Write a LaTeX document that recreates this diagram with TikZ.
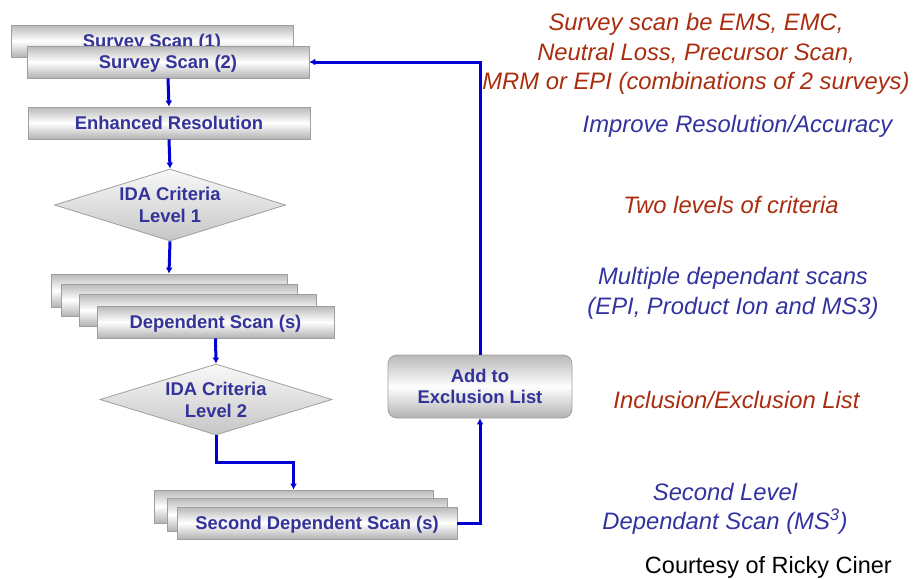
\documentclass[tikz,border=0pt]{standalone}
\usepackage{fontspec}
\setmainfont{Liberation Sans}
\usepackage{tikz}
\usetikzlibrary{shapes.geometric, calc, arrows.meta, positioning}
\usepackage{xcolor}
\definecolor{boxtext}{RGB}{51,51,153}
\definecolor{noteblue}{RGB}{51,51,160}
\definecolor{notered}{RGB}{170,45,15}
\definecolor{flowblue}{RGB}{0,0,210}

\begin{document}
\begin{tikzpicture}[x=1pt, y=-1pt,
    scanbox/.style={draw=gray!75, line width=0.8pt, top color=gray!55, bottom color=gray!60,
      middle color=white, text=boxtext, font=\fontsize{18.4}{20}\selectfont\bfseries,
      minimum height=32pt, inner sep=0pt, text height=13.2pt, text depth=0pt},
    criteria/.style={diamond, draw=gray!75, line width=0.8pt, top color=gray!5, bottom color=gray!45,
      text=boxtext, font=\fontsize{18.4}{22}\selectfont\bfseries, align=center,
      aspect=3.2, inner sep=0pt, minimum width=231pt, minimum height=72pt},
    listbox/.style={draw=gray!75, line width=0.8pt, rounded corners=9pt, top color=gray!55,
      bottom color=gray!60, middle color=white, text=boxtext, align=center,
      font=\fontsize{18.4}{21}\selectfont\bfseries, minimum width=184pt, minimum height=63pt},
    note/.style={align=center, inner sep=0pt, font=\fontsize{23.8}{29.5}\selectfont\itshape},
    flow/.style={draw=flowblue, line width=3pt, -{Latex[length=6pt,width=7pt]}}]
  \useasboundingbox (0,0) rectangle (914,579);

  % Survey scans
  \node[scanbox, minimum width=282pt] (ss1) at (152,41) {Survey Scan (1)};
  \node[scanbox, minimum width=282pt] (ss2) at (168,62) {Survey Scan (2)};
  \node[scanbox, minimum width=282pt] (er) at (169,123) {Enhanced Resolution};

  % First criteria and dependent scans
  \node[criteria] (ida1) at (170,205) {IDA Criteria\\Level 1};
  \node[scanbox, minimum width=236pt, minimum height=33pt] (ds1) at (169,290.5) {};
  \node[scanbox, minimum width=236pt] (ds2) at (179,300) {};
  \node[scanbox, minimum width=237pt] (ds3) at (197.5,310) {};
  \node[scanbox, minimum width=237pt] (ds4) at (215.5,322) {Dependent Scan (s)};

  % Second criteria and second dependent scans
  \node[criteria, minimum width=232pt, minimum height=71pt] (ida2) at (216,399.5) {IDA Criteria\\Level 2};
  \node[scanbox, minimum width=279pt, minimum height=33pt] (sds1) at (293.5,506.5) {};
  \node[scanbox, minimum width=280pt, minimum height=33pt] (sds2) at (307,514.5) {};
  \node[scanbox, minimum width=280pt] (sds3) at (317,523) {Second Dependent Scan (s)};

  \node[listbox] (excl) at (480,386.5) {Add to\\Exclusion List};

  % Flow
  \draw[flow] (ss2.south) -- (er.north);
  \draw[flow] (er.south) -- (ida1.north);
  \draw[flow] (ida1.south) -- (ds1.north);
  \draw[flow] (ds4.south) -- (ida2.north);
  \draw[flow] (ida2.south) -- ++(0,27) -| (sds1.north);
  \draw[flow] (sds3.east) -| (excl.south);
  \draw[flow] (excl.north) |- (ss2.east);

  % Notes on the right
  \node[note, text=notered] (n1) at (696,54) {Survey scan be EMS, EMC,\\Neutral Loss, Precursor Scan,\\MRM or EPI (combinations of 2 surveys)};
  \node[note, text=noteblue] (n2) at (737.5,126) {Improve Resolution/Accuracy};
  \node[note, text=notered] (n3) at (731,205) {Two levels of criteria};
  \node[note, text=noteblue] (n4) at (733,293.5) {Multiple dependant scans\\(EPI, Product Ion and MS3)};
  \node[note, text=notered] (n5) at (736.5,400) {Inclusion/Exclusion List};
  \node[note, text=noteblue] (n6) at (725,509) {Second Level\\Dependant Scan (MS\textsuperscript{3})};
  \node[anchor=base east, inner sep=0pt, font=\fontsize{23.5}{26}\selectfont] (credit) at (892,573) {Courtesy of Ricky Ciner};
\end{tikzpicture}
\end{document}
